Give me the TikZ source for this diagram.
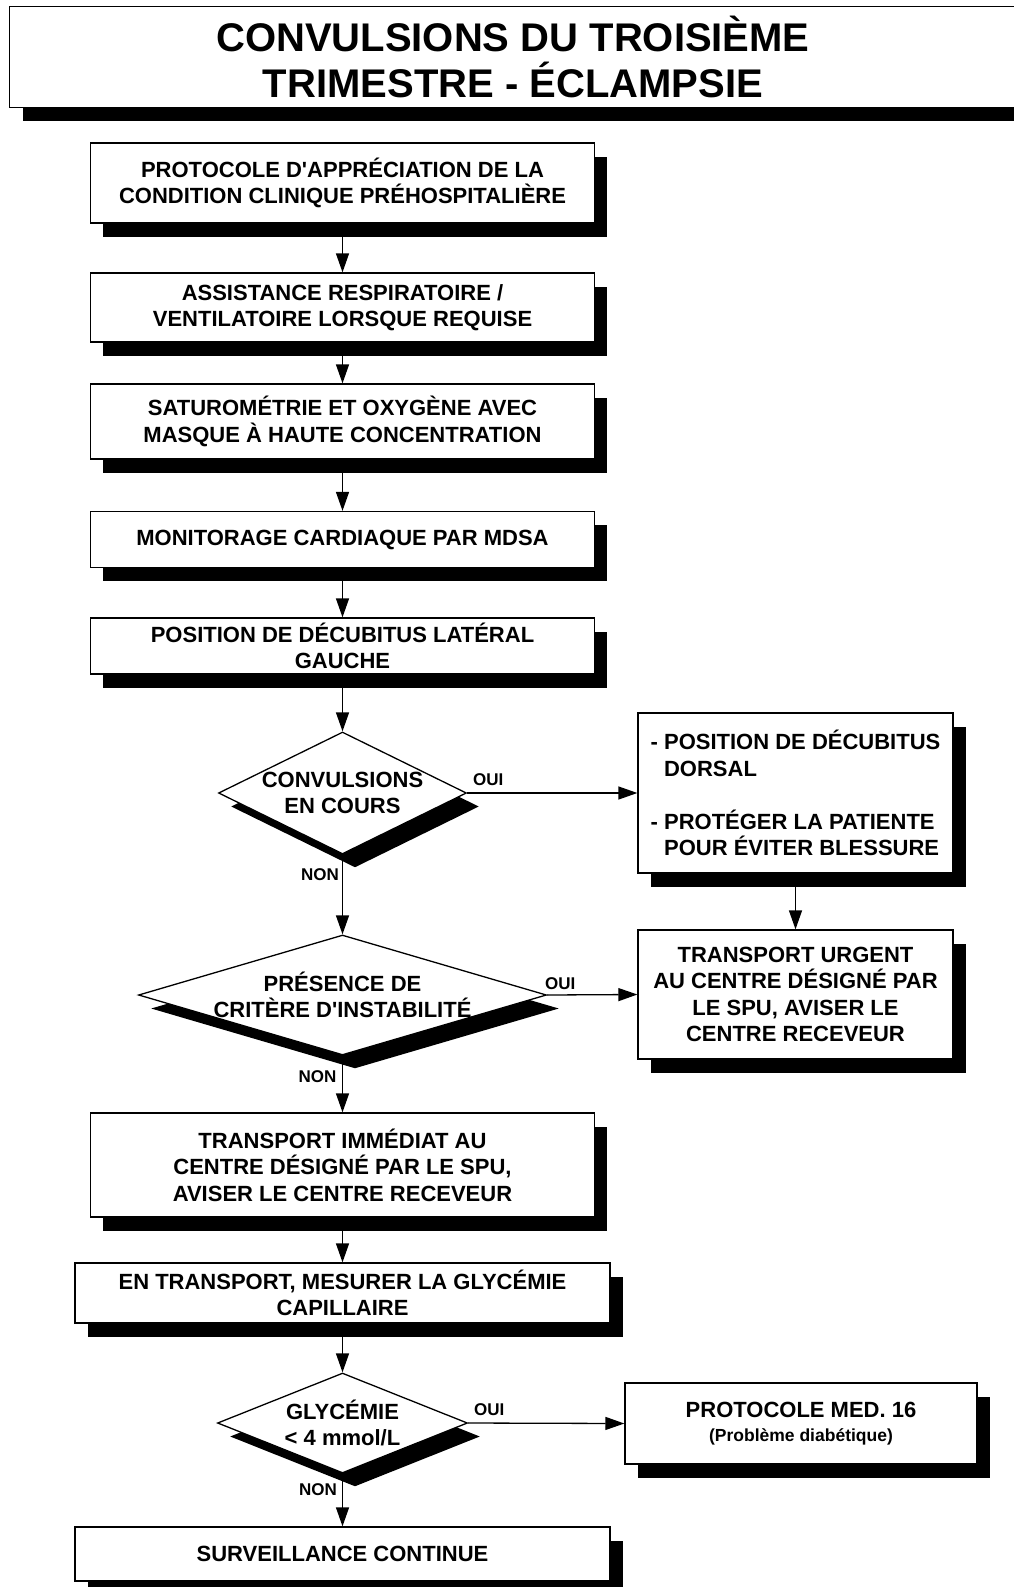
\documentclass[tikz,border=0pt]{standalone}
\usepackage{fontspec}
\setmainfont{Liberation Sans}[Ligatures=TeXOff]
\usetikzlibrary{arrows.meta,shapes.geometric,shadows}
\begin{document}
\begin{tikzpicture}[x=1pt,y=-1pt,
  shadowed/.style={drop shadow={shadow xshift=12.5pt, shadow yshift=-13.5pt, fill=black, opacity=1}},
  box/.style={draw, line width=1.3pt, fill=white, inner sep=0pt, align=center,
    minimum width=504pt, font=\bfseries\fontsize{22}{26.5}\selectfont, shadowed},
  titlefill/.style={fill=white, inner sep=0pt, shadowed},
  frame/.style={line width=1.3pt},
  dia/.style={draw, shape=diamond, line width=1.3pt, fill=white, inner sep=0pt, shadowed},
  dtext/.style={align=center, inner sep=0pt, font=\bfseries\fontsize{22}{26.5}\selectfont},
  lbl/.style={inner sep=0pt, font=\bfseries\fontsize{17}{20}\selectfont},
  arr/.style={line width=1.3pt, -{Triangle[length=19pt,width=13pt]}}
]
\useasboundingbox (0,0) rectangle (1013,1587);

% title (its right edge runs off the page)
\node[titlefill, minimum width=1040pt, minimum height=100pt] (title) at (530,57) {};
\draw[frame] (title.north east) -- (title.north west) -- (title.south west) -- (title.south east);
\node[align=center, inner sep=0pt, font=\bfseries\fontsize{40}{46}\selectfont] (titletext) at (513,57)
  {CONVULSIONS DU TROISIÈME\\TRIMESTRE - ÉCLAMPSIE};

% main column
\node[box, minimum height=80pt] (b1) at (342.5,183)
  {PROTOCOLE D'APPRÉCIATION DE LA\\CONDITION CLINIQUE PRÉHOSPITALIÈRE};
\node[box, minimum height=69pt] (b2) at (342.5,307.5)
  {ASSISTANCE RESPIRATOIRE /\\VENTILATOIRE LORSQUE REQUISE};
\node[box, minimum height=75pt] (b3) at (342.5,421.5)
  {SATUROMÉTRIE ET OXYGÈNE AVEC\\MASQUE À HAUTE CONCENTRATION};
\node[box, minimum height=56pt] (b4) at (342.5,539.5)
  {MONITORAGE CARDIAQUE PAR MDSA};
\node[box, minimum height=56pt] (b5) at (342.5,646)
  {POSITION DE DÉCUBITUS LATÉRAL\\GAUCHE};

\node[dia, minimum width=248pt, minimum height=122pt] (d1) at (342.5,793) {};
\node[dtext] (d1t) at (d1) {CONVULSIONS\\EN COURS};

\node[box, align=left, minimum width=315pt, minimum height=160pt] (bA) at (795.5,793)
  {- POSITION DE DÉCUBITUS\\\hphantom{- }DORSAL\\[26.5pt]- PROTÉGER LA PATIENTE\\\hphantom{- }POUR ÉVITER BLESSURE};

\node[dia, minimum width=408pt, minimum height=120pt] (d2) at (342.5,995) {};
\node[dtext] (d2t) at (d2) {PRÉSENCE DE\\CRITÈRE D'INSTABILITÉ};

\node[box, minimum width=315pt, minimum height=129pt] (bB) at (795.5,994.5)
  {TRANSPORT URGENT\\AU CENTRE DÉSIGNÉ PAR\\LE SPU, AVISER LE\\CENTRE RECEVEUR};

\node[box, minimum height=104pt] (b6) at (342.5,1165)
  {TRANSPORT IMMÉDIAT AU\\CENTRE DÉSIGNÉ PAR LE SPU,\\AVISER LE CENTRE RECEVEUR};
\node[box, minimum width=535pt, minimum height=60pt] (b7) at (342.5,1293)
  {EN TRANSPORT, MESURER LA GLYCÉMIE\\CAPILLAIRE};

\node[dia, minimum width=250pt, minimum height=100pt] (d3) at (342.5,1423) {};
\node[dtext] (d3t) at (d3) {GLYCÉMIE\\< 4 mmol/L};

\node[box, minimum width=352pt, minimum height=81pt] (bC) at (801,1423.5)
  {PROTOCOLE MED. 16\\[-3pt]{\fontsize{17.5}{20}\selectfont (Problème diabétique)}};

\node[box, minimum width=535pt, minimum height=54pt] (b8) at (342.5,1554)
  {SURVEILLANCE CONTINUE};

% labels
\node[lbl, anchor=west] (oui1) at (473,780) {OUI};
\node[lbl, anchor=east] (non1) at (339,875) {NON};
\node[lbl, anchor=west] (oui2) at (545,984) {OUI};
\node[lbl, anchor=east] (non2) at (336.5,1077) {NON};
\node[lbl, anchor=west] (oui3) at (474,1410) {OUI};
\node[lbl, anchor=east] (non3) at (337,1490) {NON};

% connectors
\draw[arr] (b1.south) -- (b2.north);
\draw[arr] (b2.south) -- (b3.north);
\draw[arr] (b3.south) -- (b4.north);
\draw[arr] (b4.south) -- (b5.north);
\draw[arr] (b5.south) -- (d1.north);
\draw[arr] (d1.east) -- (bA.west);
\draw[arr] (bA.south) -- (bB.north);
\draw[arr] (d1.south) -- (d2.north);
\draw[arr] (d2.east) -- (bB.west);
\draw[arr] (d2.south) -- (b6.north);
\draw[arr] (b6.south) -- (b7.north);
\draw[arr] (b7.south) -- (d3.north);
\draw[arr] (d3.east) -- (bC.west);
\draw[arr] (d3.south) -- (b8.north);
\end{tikzpicture}
\end{document}
